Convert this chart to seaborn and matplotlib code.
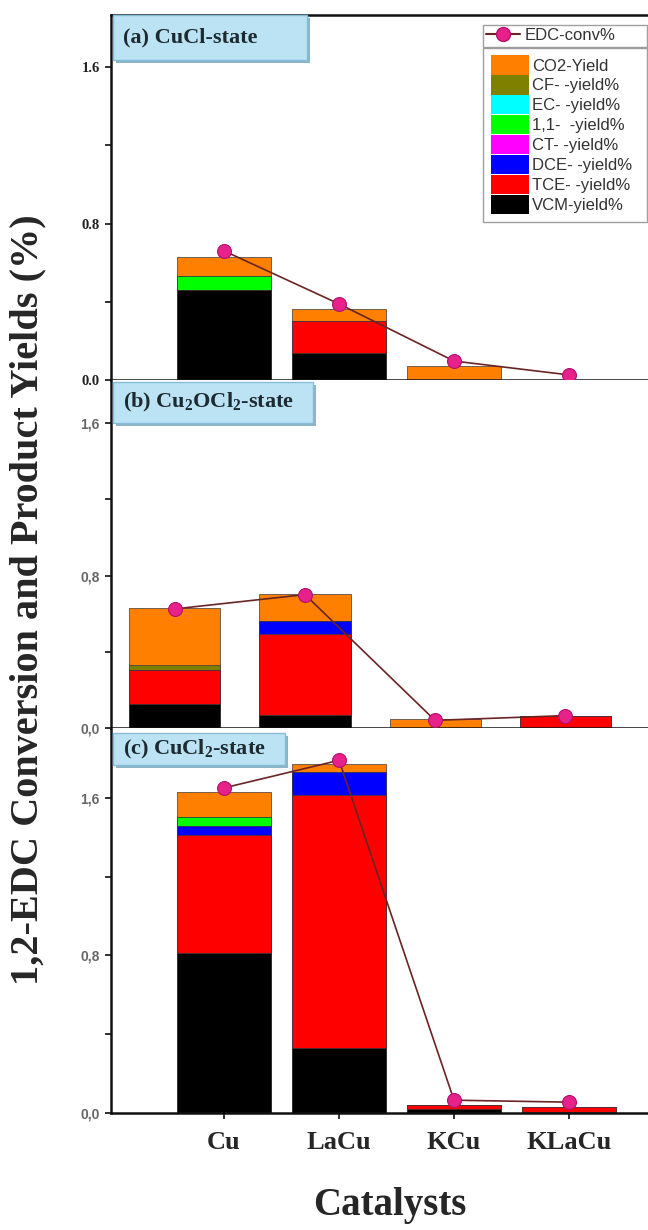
import numpy as np
import pandas as pd
import matplotlib.pyplot as plt
from matplotlib.patches import Patch, Rectangle
from matplotlib.lines import Line2D
import seaborn as sns

sns.set_style("ticks")
plt.rcParams["font.family"] = ["Liberation Serif", "DejaVu Serif"]
plt.rcParams["mathtext.fontset"] = "custom"
plt.rcParams["mathtext.rm"] = "Liberation Serif:bold"
plt.rcParams["mathtext.it"] = "Liberation Serif:bold"
plt.rcParams["mathtext.bf"] = "Liberation Serif:bold"

# ---------------------------------------------------------------
# Data
# ---------------------------------------------------------------
catalysts = ["Cu", "LaCu", "KCu", "KLaCu"]

# stacking order bottom -> top
products = ["VCM", "TCE", "DCE", "CT", "11", "EC", "CF", "CO2"]
product_labels = {
    "CO2": "CO2-Yield",
    "CF": "CF- -yield%",
    "EC": "EC- -yield%",
    "11": "1,1-  -yield%",
    "CT": "CT- -yield%",
    "DCE": "DCE- -yield%",
    "TCE": "TCE- -yield%",
    "VCM": "VCM-yield%",
}
product_colors = {
    "CO2": "#FF8000",
    "CF": "#808000",
    "EC": "#00FFFF",
    "11": "#00FF00",
    "CT": "#FF00FF",
    "DCE": "#0000FF",
    "TCE": "#FF0000",
    "VCM": "#000000",
}

# (a) CuCl-state
a_vcm = [0.46, 0.138, 0.0, 0.0]
a_tce = [0.0, 0.164, 0.0, 0.0]
a_dce = [0.0, 0.0, 0.0, 0.0]
a_ct = [0.0, 0.0, 0.0, 0.0]
a_11 = [0.072, 0.0, 0.0, 0.0]
a_ec = [0.0, 0.0, 0.0, 0.0]
a_cf = [0.0, 0.0, 0.0, 0.0]
a_co2 = [0.097, 0.061, 0.072, 0.0]
a_conv = [0.66, 0.389, 0.097, 0.026]

# (b) Cu2OCl2-state
b_vcm = [0.126, 0.07, 0.0, 0.0]
b_tce = [0.179, 0.425, 0.0, 0.063]
b_dce = [0.0, 0.065, 0.0, 0.0]
b_ct = [0.0, 0.0, 0.0, 0.0]
b_11 = [0.0, 0.0, 0.0, 0.0]
b_ec = [0.0, 0.0, 0.0, 0.0]
b_cf = [0.025, 0.0, 0.0, 0.0]
b_co2 = [0.30, 0.145, 0.047, 0.0]
b_conv = [0.625, 0.70, 0.04, 0.065]

# (c) CuCl2-state
c_vcm = [0.81, 0.33, 0.02, 0.005]
c_tce = [0.60, 1.285, 0.02, 0.025]
c_dce = [0.045, 0.115, 0.0, 0.0]
c_ct = [0.0, 0.0, 0.0, 0.0]
c_11 = [0.045, 0.0, 0.0, 0.0]
c_ec = [0.0, 0.0, 0.0, 0.0]
c_cf = [0.0, 0.0, 0.0, 0.0]
c_co2 = [0.13, 0.04, 0.0, 0.0]
c_conv = [1.65, 1.79, 0.065, 0.055]

panels = [
    dict(title="(a) CuCl-state",
         yields=[a_vcm, a_tce, a_dce, a_ct, a_11, a_ec, a_cf, a_co2], conv=a_conv),
    dict(title="(b) Cu$_2$OCl$_2$-state",
         yields=[b_vcm, b_tce, b_dce, b_ct, b_11, b_ec, b_cf, b_co2], conv=b_conv),
    dict(title="(c) CuCl$_2$-state",
         yields=[c_vcm, c_tce, c_dce, c_ct, c_11, c_ec, c_cf, c_co2], conv=c_conv),
]

# ---------------------------------------------------------------
# Layout
# ---------------------------------------------------------------
fig = plt.figure(figsize=(6.48, 12.3), dpi=100)
W, H = 648, 1230
left = 111 / W
width = 1 - left
boxes = [(15, 380), (380, 728), (728, 1113)]  # pixel top/bottom of each panel
xlims = [(-0.983, 3.687), (-0.492, 3.638), (-0.983, 3.687)]
ylims = [1.866, 1.826, 1.954]
bar_widths = [0.81, 0.70, 0.81]
title_boxes = [(307, 15, 60), (313, 382, 423), (285, 733, 765)]  # right x, top y, bottom y

line_color = "#6B2424"
dot_color = "#E6218A"

for i, p in enumerate(panels):
    top, bot = boxes[i]
    ax = fig.add_axes([left, 1 - bot / H, width, (bot - top) / H])

    # stacked bars: draw cumulative totals from the top layer down
    cum = np.cumsum(np.array(p["yields"]), axis=0)
    for k in range(len(products) - 1, -1, -1):
        df = pd.DataFrame({"cat": catalysts, "val": cum[k]})
        sns.barplot(data=df, x="cat", y="val", order=catalysts, ax=ax,
                    color=product_colors[products[k]], saturation=1,
                    width=bar_widths[i], errorbar=None,
                    edgecolor="#3a3a3a", linewidth=0.5)

    conv_df = pd.DataFrame({"cat": catalysts, "conv": p["conv"]})
    sns.pointplot(data=conv_df, x="cat", y="conv", order=catalysts, ax=ax,
                  color=line_color, markers="o", linestyles="-", errorbar=None,
                  linewidth=1.2, markersize=10, markerfacecolor=dot_color,
                  markeredgecolor="#B5106A", markeredgewidth=0.8, zorder=5)

    ax.set_xlim(*xlims[i])
    ax.set_ylim(0, ylims[i])
    ax.set_xlabel("")
    ax.set_ylabel("")
    ax.set_yticks([0, 0.4, 0.8, 1.2, 1.6])
    if i == 0:
        ax.set_yticklabels(["0.0", "", "0.8", "", "1.6"], fontsize=10.5,
                           fontweight="bold", color="#222222")
    else:
        ax.set_yticklabels(["0,0", "", "0,8", "", "1,6"], fontsize=10,
                           fontweight="bold", color="#666666",
                           family="Liberation Sans")
    ax.set_xticks(range(len(catalysts)))
    if i == 2:
        ax.set_xticklabels(catalysts, fontsize=19, fontweight="bold")
    else:
        ax.set_xticklabels([])
    ax.tick_params(axis="both", direction="out", length=4, width=1.3, color="#222222")
    ax.tick_params(axis="y", pad=4)
    ax.tick_params(axis="x", pad=9)

    for s in ["left", "bottom", "top"]:
        ax.spines[s].set_linewidth(1.8)
        ax.spines[s].set_color("#111111")
    ax.spines["right"].set_visible(False)
    if i > 0:
        ax.spines["top"].set_visible(False)

    # panel title box with a small shadow
    rx, ty, by = title_boxes[i]
    ah = bot - top
    aw = W - 111
    x0 = 2 / aw
    y0 = 1 - (by - top) / ah
    bw = (rx - 113) / aw
    bh = (by - ty) / ah
    ax.add_patch(Rectangle((x0 + 3 / aw, y0 - 3 / ah), bw, bh, transform=ax.transAxes,
                           facecolor="#8DB5C8", edgecolor="none", zorder=6, clip_on=False))
    ax.add_patch(Rectangle((x0, y0), bw, bh, transform=ax.transAxes,
                           facecolor="#BCE3F4", edgecolor="#86BCD6", linewidth=1,
                           zorder=7, clip_on=False))
    ax.text(x0 + 10 / aw, y0 + bh / 2, p["title"], transform=ax.transAxes,
            fontsize=16, fontweight="bold", color="#1d2a30", va="center", ha="left",
            zorder=8)

    if i == 0:
        lx0 = (483 - 111) / aw
        lw = (647 - 483) / aw
        line_handle = Line2D([], [], color=line_color, linewidth=1.5, marker="o",
                             markersize=10, markerfacecolor=dot_color,
                             markeredgecolor="#B5106A")
        leg1 = ax.legend([line_handle], ["EDC-conv%"], loc="upper left",
                         bbox_to_anchor=(lx0, 0.973 - 0.1, lw, 0.1), mode="expand",
                         borderaxespad=0, frameon=True, fancybox=False,
                         edgecolor="#888888", handlelength=2.0, handletextpad=0.3,
                         borderpad=0.2, labelcolor="#333333",
                         prop={"family": "Liberation Sans", "size": 12})
        leg1.get_frame().set_linewidth(1.0)
        ax.add_artist(leg1)
        order = ["CO2", "CF", "EC", "11", "CT", "DCE", "TCE", "VCM"]
        handles = [Patch(facecolor=product_colors[k], edgecolor="none") for k in order]
        leg2 = ax.legend(handles, [product_labels[k] for k in order], loc="upper left",
                         bbox_to_anchor=(lx0, 0.910 - 0.1, lw, 0.1), mode="expand",
                         borderaxespad=0, frameon=True, fancybox=False,
                         edgecolor="#888888", handlelength=2.3, handleheight=1.4,
                         handletextpad=0.2, labelspacing=0.04, borderpad=0.45,
                         labelcolor="#333333",
                         prop={"family": "Liberation Sans", "size": 12})
        leg2.get_frame().set_linewidth(1.0)

fig.text(28 / W, 1 - 600 / H, "1,2-EDC Conversion and Product Yields (%)",
         rotation=90, fontsize=29, fontweight="bold", ha="center", va="center")
fig.text(390 / W, 1 - 1205 / H, "Catalysts", fontsize=28, fontweight="bold",
         ha="center", va="center")

fig.savefig("out.png", dpi=100)
